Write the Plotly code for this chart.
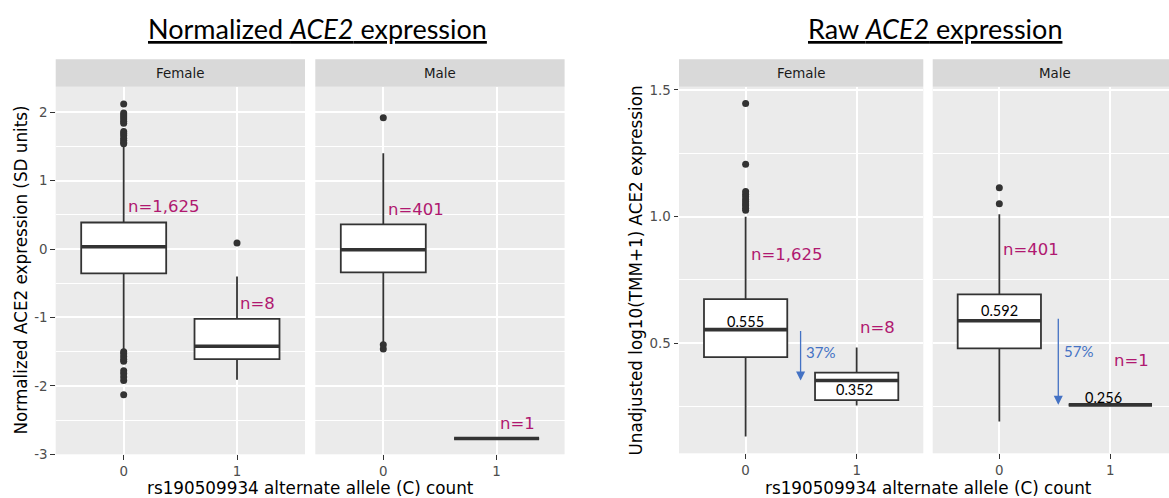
import plotly.graph_objects as go

W, H = 1169, 498

# ---------------- data ----------------
alleles = [0, 1]
allele_labels = ["0", "1"]
sexes = ["Female", "Male"]

# Normalized ACE2 expression (SD units)
norm_female_q1 = [-0.355, -1.61]
norm_female_med = [0.034, -1.42]
norm_female_q3 = [0.389, -1.02]
norm_female_lo = [-1.47, -1.91]
norm_female_hi = [1.50, -0.40]
norm_female_out_x = [0] * 24 + [1]
norm_female_out_y = [2.12, 1.99, 1.96, 1.93, 1.90, 1.87, 1.84, 1.72, 1.69, 1.66, 1.62, 1.59, 1.56, 1.54,
                     -1.50, -1.53, -1.57, -1.61, -1.64, -1.78, -1.82, -1.87, -1.92, -2.13,
                     0.088]
norm_male_q1 = [-0.34, -2.77]
norm_male_med = [-0.01, -2.77]
norm_male_q3 = [0.36, -2.77]
norm_male_lo = [-1.38, -2.77]
norm_male_hi = [1.40, -2.77]
norm_male_out_x = [0, 0, 0]
norm_male_out_y = [1.92, -1.40, -1.46]

# Unadjusted log10(TMM+1) ACE2 expression
raw_female_q1 = [0.445, 0.276]
raw_female_med = [0.554, 0.353]
raw_female_q3 = [0.674, 0.384]
raw_female_lo = [0.132, 0.254]
raw_female_hi = [1.000, 0.483]
raw_female_out_x = [0] * 11
raw_female_out_y = [1.447, 1.207, 1.099, 1.088, 1.079, 1.068, 1.059, 1.050, 1.043, 1.033, 1.025]
raw_male_q1 = [0.480, 0.257]
raw_male_med = [0.589, 0.257]
raw_male_q3 = [0.693, 0.257]
raw_male_lo = [0.191, 0.257]
raw_male_hi = [1.009, 0.257]
raw_male_out_x = [0, 0]
raw_male_out_y = [1.114, 1.051]

n_female = ["n=1,625", "n=8"]
n_male = ["n=401", "n=1"]
raw_female_med_labels = ["0.555", "0.352"]
raw_male_med_labels = ["0.592", "0.256"]
pct_drop = ["37%", "57%"]

# ---------------- style ----------------
BOX_W = 0.75
DARK = "#333333"
MAG = "#B01870"
BLUE = "#4472C4"
GRID = "white"
BASE_FONT = "DejaVu Sans"
NOTE_FONT = "Lato"


def px(x):
    return x / W


def py(y):
    return 1 - y / H


fig = go.Figure()

panels = [
    ("x", "y", norm_female_q1, norm_female_med, norm_female_q3, norm_female_lo, norm_female_hi,
     norm_female_out_x, norm_female_out_y),
    ("x2", "y2", norm_male_q1, norm_male_med, norm_male_q3, norm_male_lo, norm_male_hi,
     norm_male_out_x, norm_male_out_y),
    ("x3", "y3", raw_female_q1, raw_female_med, raw_female_q3, raw_female_lo, raw_female_hi,
     raw_female_out_x, raw_female_out_y),
    ("x4", "y4", raw_male_q1, raw_male_med, raw_male_q3, raw_male_lo, raw_male_hi,
     raw_male_out_x, raw_male_out_y),
]

for xa, ya, q1, med, q3, lo, hi, ox, oy in panels:
    fig.add_trace(go.Box(
        x=alleles, q1=q1, median=med, q3=q3, lowerfence=lo, upperfence=hi,
        width=BOX_W, whiskerwidth=0, fillcolor="white", line=dict(color=DARK, width=1.8),
        boxpoints=False, xaxis=xa, yaxis=ya, showlegend=False, hoverinfo="skip"))
    mx, my = [], []
    for a, m in zip(alleles, med):
        mx += [a - BOX_W / 2, a + BOX_W / 2, None]
        my += [m, m, None]
    fig.add_trace(go.Scatter(x=mx, y=my, mode="lines", line=dict(color=DARK, width=3.6),
                             xaxis=xa, yaxis=ya, showlegend=False, hoverinfo="skip"))
    fig.add_trace(go.Scatter(x=ox, y=oy, mode="markers",
                             marker=dict(color=DARK, size=7, line=dict(width=0)),
                             xaxis=xa, yaxis=ya, showlegend=False, hoverinfo="skip"))

# ---------------- axes ----------------
L_TOP, L_BOT = 86.7, 454.3
R_TOP, R_BOT = 86.7, 453.3
x_dom = {
    "xaxis": (55.7, 305.0),
    "xaxis2": (315.3, 564.6),
    "xaxis3": (679.0, 923.3),
    "xaxis4": (932.7, 1169.0),
}
unit_r = (923.3 - 679.0) / 2.2
x_rng = {
    "xaxis": [-0.6, 1.6],
    "xaxis2": [-0.6, 1.6],
    "xaxis3": [-0.6, 1.6],
    "xaxis4": [-0.6, -0.6 + (1169.0 - 932.7) / unit_r],
}
tickfont = dict(family=BASE_FONT, size=13.4, color="#4D4D4D")
for i, (k, (a, b)) in enumerate(x_dom.items()):
    fig.layout[k] = dict(
        domain=[px(a), px(b)], range=x_rng[k], tickmode="array", automargin=False,
        tickvals=alleles, ticktext=allele_labels, showgrid=True, gridcolor=GRID,
        gridwidth=1.8, zeroline=False, ticks="outside", ticklen=4.5, tickwidth=1.3,
        tickcolor=DARK, tickfont=tickfont, showline=False, fixedrange=True,
        anchor="y" if i == 0 else "y%d" % (i + 1))

left_ticks = [-3, -2, -1, 0, 1, 2]
right_ticks = [0.5, 1.0, 1.5]
for i in range(4):
    k = "yaxis" if i == 0 else "yaxis%d" % (i + 1)
    left = i < 2
    top, bot = (L_TOP, L_BOT) if left else (R_TOP, R_BOT)
    tv = left_ticks if left else right_ticks
    tt = [str(v) for v in tv] if left else ["%.1f" % v for v in tv]
    minor_v = [-2.5, -1.5, -0.5, 0.5, 1.5] if left else [0.25, 0.75, 1.25]
    show_lbl = i in (0, 2)
    fig.layout[k] = dict(
        domain=[py(bot), py(top)], automargin=False,
        range=[-3.0, 2.374] if left else [0.0657, 1.513],
        tickmode="array", tickvals=tv, ticktext=tt, showgrid=True, gridcolor=GRID,
        gridwidth=1.8, zeroline=False, showline=False, fixedrange=True,
        ticks="outside" if show_lbl else "", ticklen=4.5, tickwidth=1.3, tickcolor=DARK,
        showticklabels=show_lbl, tickfont=tickfont,
        minor=dict(tickmode="array", tickvals=minor_v, showgrid=True, gridcolor=GRID,
                   gridwidth=0.9, ticks=""),
        anchor="x" if i == 0 else "x%d" % (i + 1))

# ---------------- strips ----------------
shapes = []
annotations = []
STRIP_TOP, STRIP_BOT = 59.3, 86.7
for i, (k, (a, b)) in enumerate(x_dom.items()):
    bb = b + 12 if k == "xaxis4" else b
    shapes.append(dict(type="rect", xref="paper", yref="paper", x0=px(a), x1=px(bb),
                       y0=py(STRIP_BOT), y1=py(STRIP_TOP), fillcolor="#D9D9D9",
                       line=dict(width=0), layer="below"))
    cx = (a + b) / 2
    if k == "xaxis4":
        cx = a + unit_r * 1.1
    annotations.append(dict(text=sexes[i % 2], xref="paper", yref="paper", x=px(cx),
                            y=py((STRIP_TOP + STRIP_BOT) / 2), showarrow=False,
                            xanchor="center", yanchor="middle",
                            font=dict(family=BASE_FONT, size=13.4, color="#1A1A1A")))

# ---------------- titles ----------------
title_font = dict(family=NOTE_FONT, size=27, color="black")
annotations.append(dict(text="<u>Normalized <i>ACE2</i> expression</u>", xref="paper", yref="paper",
                        x=px(317), y=py(28), showarrow=False, xanchor="center", yanchor="middle",
                        font=title_font))
annotations.append(dict(text="<u>Raw <i>ACE2</i> expression</u>", xref="paper", yref="paper",
                        x=px(934.5), y=py(28), showarrow=False, xanchor="center", yanchor="middle",
                        font=title_font))

axis_title_font = dict(family=BASE_FONT, size=16.8, color="black")
xtitle = "rs190509934 alternate allele (C) count"
annotations.append(dict(text=xtitle, xref="paper", yref="paper", x=px(310.5), y=py(488),
                        showarrow=False, xanchor="center", yanchor="middle", font=axis_title_font))
annotations.append(dict(text=xtitle, xref="paper", yref="paper", x=px(928.5), y=py(488),
                        showarrow=False, xanchor="center", yanchor="middle", font=axis_title_font))
annotations.append(dict(text="Normalized ACE2 expression (SD units)", xref="paper", yref="paper",
                        x=px(20), y=py(270.5), showarrow=False, textangle=-90,
                        xanchor="center", yanchor="middle", font=axis_title_font))
annotations.append(dict(text="Unadjusted log10(TMM+1) ACE2 expression", xref="paper", yref="paper",
                        x=px(635.5), y=py(270), showarrow=False, textangle=-90,
                        xanchor="center", yanchor="middle", font=axis_title_font))

# ---------------- in-panel labels ----------------
n_font = dict(family=BASE_FONT, size=16.5, color=MAG)
n_pos = [
    ("x", "y", [0.02, 1.01], [0.62, -0.80]),
    ("x2", "y2", [0.02, 1.01], [0.585, -2.545]),
    ("x3", "y3", [0.026, 1.015], [0.849, 0.563]),
    ("x4", "y4", [0.017, 1.013], [0.871, 0.434]),
]
n_texts = [n_female, n_male, n_female, n_male]
for (xr, yr, xs, ys), texts in zip(n_pos, n_texts):
    for t, xv, yv in zip(texts, xs, ys):
        annotations.append(dict(text=t, xref=xr, yref=yr, x=xv, y=yv, showarrow=False,
                                xanchor="left", yanchor="middle", font=n_font))

med_font = dict(family=NOTE_FONT, size=14.5, color="black")
med_pos = [("x3", "y3", [0.0, 0.98], [0.588, 0.316]),
           ("x4", "y4", [0.0, 0.942], [0.628, 0.287])]
for (xr, yr, xs, ys), texts in zip(med_pos, [raw_female_med_labels, raw_male_med_labels]):
    for t, xv, yv in zip(texts, xs, ys):
        annotations.append(dict(text=t, xref=xr, yref=yr, x=xv, y=yv, showarrow=False,
                                xanchor="center", yanchor="middle", font=med_font))

arrow_spec = [("x3", "y3", 0.495, raw_female_med[0], raw_female_med[1]),
              ("x4", "y4", 0.531, 0.603, raw_male_med[1])]
pct_pos = [(0.53, 0.467), (0.566, 0.470)]
for (xr, yr, xv, y0, y1), t, (tx, ty) in zip(arrow_spec, pct_drop, pct_pos):
    annotations.append(dict(text="", xref=xr, yref=yr, x=xv, y=y1, ax=xv, ay=y0,
                            axref=xr, ayref=yr, showarrow=True, arrowhead=2, arrowsize=1.4,
                            arrowwidth=1.3, arrowcolor=BLUE, standoff=0, startstandoff=0))
    annotations.append(dict(text=t, xref=xr, yref=yr, x=tx, y=ty, showarrow=False,
                            xanchor="left", yanchor="middle",
                            font=dict(family=NOTE_FONT, size=15, color=BLUE)))

fig.update_layout(
    width=W, height=H, margin=dict(l=0, r=0, t=0, b=0, autoexpand=False),
    paper_bgcolor="white", plot_bgcolor="#EBEBEB",
    shapes=shapes, annotations=annotations, showlegend=False,
    font=dict(family=BASE_FONT),
)

fig.write_html(
    "out.html",
    config={"displayModeBar": False},
    post_script="document.body.style.margin='0';document.body.style.padding='0';"
                "document.documentElement.style.overflow='hidden';",
)
